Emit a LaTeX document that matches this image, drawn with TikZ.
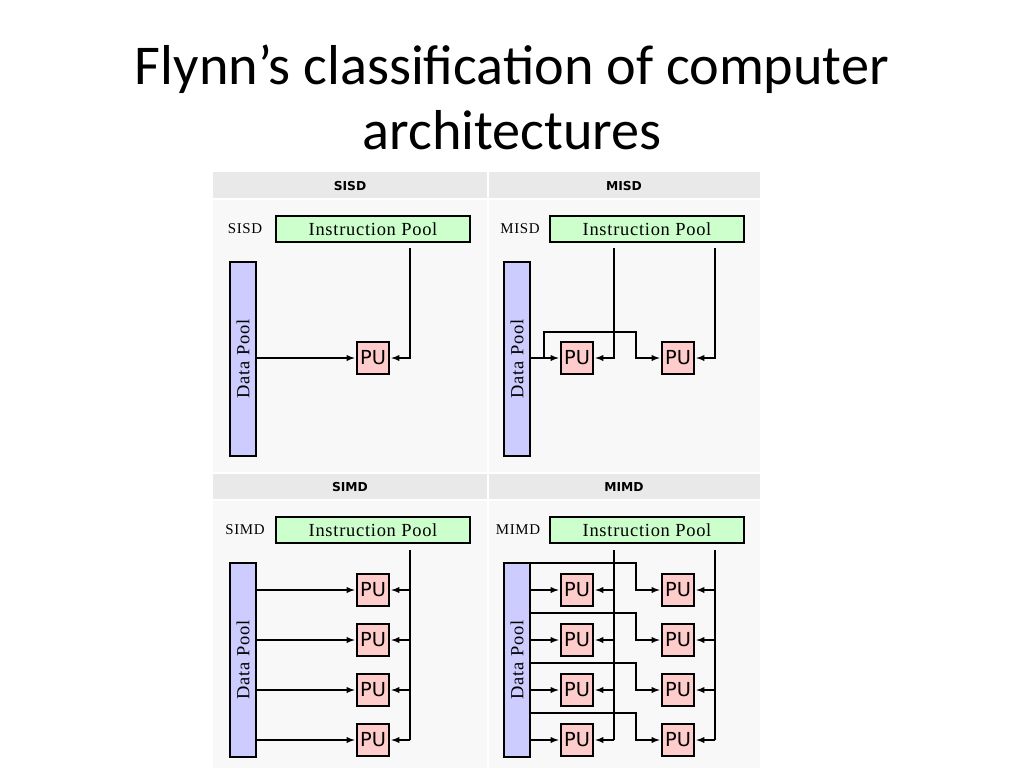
\documentclass[tikz,border=0pt]{standalone}
\usepackage{fontspec}
\setmainfont{Liberation Serif}
\newfontfamily\titlefont{Carlito}
\newfontfamily\pufont{DejaVu Sans}
\usetikzlibrary{positioning}
\definecolor{instgreen}{HTML}{CCFFCC}
\definecolor{datablue}{HTML}{CCCCFF}
\definecolor{pured}{HTML}{FFCCCC}
\definecolor{headgray}{HTML}{E9E9E9}
\definecolor{panelgray}{HTML}{F8F8F8}
\begin{document}
\begin{tikzpicture}[x=0.02cm, y=-0.02cm, >=latex]
        \tikzset{
          pool/.style={draw, line width=0.8pt, fill=instgreen, minimum width=194*0.02cm, minimum height=26*0.02cm, inner sep=0pt, font=\addfontfeature{LetterSpace=4}\fontsize{10.5}{12}\selectfont},
          dpool/.style={draw, line width=0.8pt, fill=datablue, minimum width=26*0.02cm, minimum height=194*0.02cm, inner sep=0pt},
          dlabel/.style={rotate=90, font=\addfontfeature{LetterSpace=4}\fontsize{10.5}{12}\selectfont},
          pu/.style={draw, line width=0.6pt, fill=pured, minimum size=32*0.02cm, inner sep=0pt, font=\pufont\fontsize{11}{12}\selectfont},
          tag/.style={font=\addfontfeature{LetterSpace=4}\fontsize{8.5}{10}\selectfont},
          head/.style={font=\pufont\bfseries\fontsize{7}{8}\selectfont},
          wire/.style={line width=0.6pt},
          feed/.style={line width=0.6pt, ->, shorten >=1pt}
        }
        \useasboundingbox (0,0) rectangle (1024,768);
        % title
        \node[font=\titlefont\fontsize{32}{37}\selectfont, align=center] (title) at (512,97) {Flynn’s classification of computer\\architectures};
        % backgrounds
        \fill[panelgray] (213,172) rectangle (760,768);
        \fill[headgray] (213,172) rectangle (760,199);
        \fill[headgray] (213,473) rectangle (760,500);
        \draw[white, line width=1.5pt] (488,172) -- (488,768);
        \draw[white, line width=1.5pt] (213,199) -- (760,199) (213,473) -- (760,473) (213,500) -- (760,500);
        \node[head] (hsisd) at (350,186) {SISD};
        \node[head] (hmisd) at (624,186) {MISD};
        \node[head] (hsimd) at (350,487) {SIMD};
        \node[head] (hmimd) at (624,487) {MIMD};

        % SISD
        \node[tag] (tsisd) at (245,229) {SISD};
        \node[pool] (ip1) at (373,229) {Instruction Pool};
        \node[dpool] (dp1) at (243,359) {};
        \node[dlabel] at (dp1) {Data Pool};
        \node[pu] (pu1) at (373,358) {PU};
        \coordinate (i1) at (410,248);
        \draw[feed] (dp1.east |- pu1) -- (pu1);
        \draw[feed] (i1) |- (pu1);

        % MISD
        \node[tag] (tmisd) at (520,229) {MISD};
        \node[pool] (ip2) at (647,229) {Instruction Pool};
        \node[dpool] (dp2) at (517,359) {};
        \node[dlabel] at (dp2) {Data Pool};
        \node[pu] (pa) at (577,358) {PU};
        \node[pu] (pb) at (678,358) {PU};
        \coordinate (ia) at (614,248);
        \coordinate (ib) at (715,248);
        \draw[feed] (dp2.east |- pa) -- (pa);
        \draw[feed] (544,358) |- (636,332) |- (pb);
        \draw[feed] (ia) |- (pa);
        \draw[feed] (ib) |- (pb);

        % SIMD
        \node[tag] (tsimd) at (245,530) {SIMD};
        \node[pool] (ip3) at (373,530) {Instruction Pool};
        \node[dpool] (dp3) at (243,660) {};
        \node[dlabel] at (dp3) {Data Pool};
        \draw[wire] (410,550) -- (410,740);
        \foreach \y [count=\k] in {590,640,690,740} {
          \node[pu] (s\k) at (373,\y) {PU};
          \draw[feed] (dp3.east |- s\k) -- (s\k);
          \draw[feed] (410,\y) -- (s\k);
        }

        % MIMD
        \node[tag] (tmimd) at (518,530) {MIMD};
        \node[pool] (ip4) at (647,530) {Instruction Pool};
        \node[dpool] (dp4) at (517,660) {};
        \node[dlabel] at (dp4) {Data Pool};
        \draw[wire] (614,550) -- (614,740);
        \draw[wire] (715,550) -- (715,740);
        \foreach \y [count=\k] in {590,640,690,740} {
          \node[pu] (ma\k) at (577,\y) {PU};
          \node[pu] (mb\k) at (678,\y) {PU};
          \draw[feed] (dp4.east |- ma\k) -- (ma\k);
          \draw[feed] (dp4.east |- 0,\y-27) -| (636,\y) -- (mb\k);
          \draw[feed] (614,\y) -- (ma\k);
          \draw[feed] (715,\y) -- (mb\k);
        }
\end{tikzpicture}
\end{document}
